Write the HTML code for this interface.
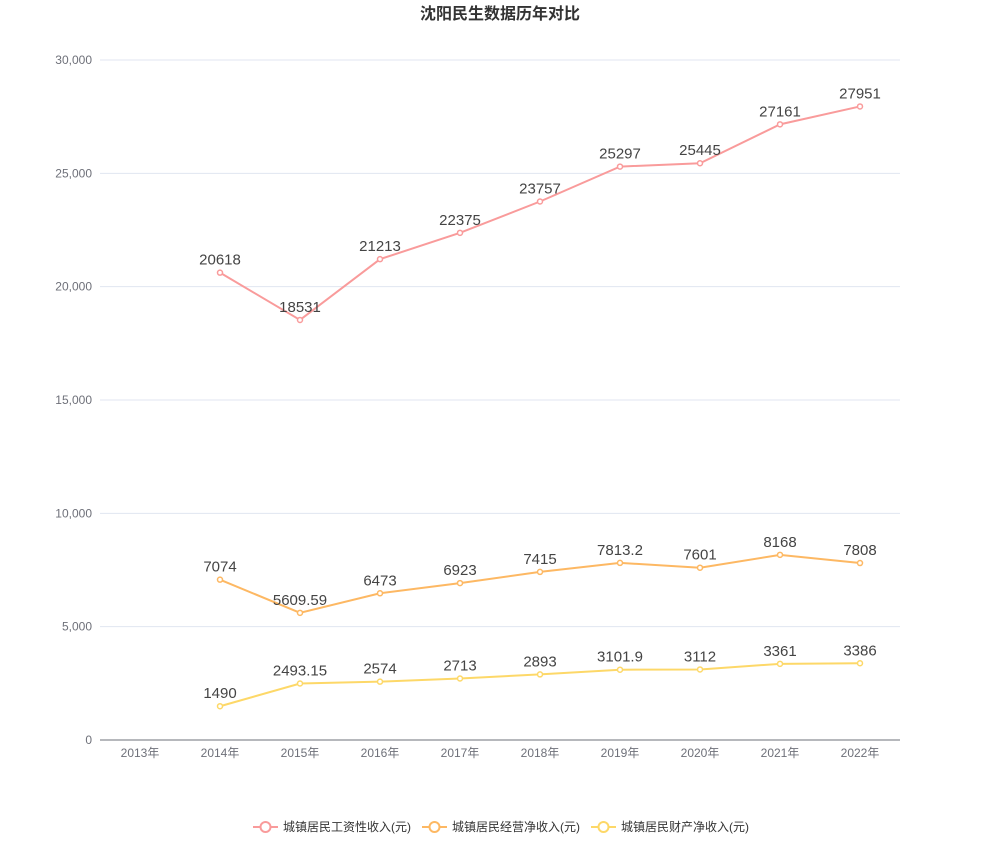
<!DOCTYPE html>
<html><head><meta charset="utf-8"><style>
body{margin:0;background:#fff;}
svg text{font-family:"Liberation Sans","Noto Sans CJK SC",sans-serif;}
</style></head><body>
<svg id="c" width="1000" height="840" xmlns="http://www.w3.org/2000/svg">
<text x="500" y="19" text-anchor="middle" font-size="16" font-weight="bold" fill="#333">沈阳民生数据历年对比</text>
<g id="grid"></g><g id="series"></g><g id="legend"></g>
</svg>
<script>
const categories=["2013年","2014年","2015年","2016年","2017年","2018年","2019年","2020年","2021年","2022年"];
const wage=[null,20618,18531,21213,22375,23757,25297,25445,27161,27951];
const business=[null,7074,5609.59,6473,6923,7415,7813.2,7601,8168,7808];
const property=[null,1490,2493.15,2574,2713,2893,3101.9,3112,3361,3386];
const yTicks=[0,5000,10000,15000,20000,25000,30000];
const tickLabels=["0","5,000","10,000","15,000","20,000","25,000","30,000"];
const seriesNames=["城镇居民工资性收入(元)","城镇居民经营净收入(元)","城镇居民财产净收入(元)"];
const colors=["#f99b9b","#fdb863","#fdd868"];
const NS="http://www.w3.org/2000/svg";
const L=100,R=900,T=60,B=740,yMax=30000;
const x=i=>L+(i+0.5)*(R-L)/categories.length;
const y=v=>B-(v/yMax)*(B-T);
function mk(tag,attrs,parent,text){const e=document.createElementNS(NS,tag);for(const k in attrs)e.setAttribute(k,attrs[k]);if(text!==undefined)e.textContent=text;parent.appendChild(e);return e;}
const g=document.getElementById('grid');
yTicks.forEach((t,i)=>{
  if(t>0){const ln=mk('line',{x1:L,x2:R,y1:y(t),y2:y(t),stroke:'#e0e6f1'},g);
  
  }
  const tx=mk('text',{x:L-8,y:y(t)+4,'text-anchor':'end','font-size':12,fill:'#6e7079'},g,tickLabels[i]);
  
  
});
const ax=mk('line',{x1:L,x2:R,y1:B,y2:B,stroke:'#6e7079'},g);


categories.forEach((c,i)=>{
  const tx=mk('text',{x:x(i),y:B+17,'text-anchor':'middle','font-size':12,fill:'#6e7079'},g,c);
  
  
});
const s=document.getElementById('series');
[wage,business,property].forEach((arr,si)=>{
  const sg=mk('g',{},s);
  
  
  let d='';
  arr.forEach((v,i)=>{if(v==null)return;d+=(d?'L':'M')+x(i)+','+y(v);});
  const p=mk('path',{d:d,fill:'none',stroke:colors[si],'stroke-width':2},sg);
  
  
  arr.forEach((v,i)=>{if(v==null)return;
    const c=mk('circle',{cx:x(i),cy:y(v),r:2.5,fill:'#fff',stroke:colors[si],'stroke-width':1.5},sg);
    
    
    const t=mk('text',{x:x(i),y:y(v)-8,'text-anchor':'middle','font-size':15,fill:'#444'},sg,String(v));
    
    
  });
});
const lg=document.getElementById('legend');
const lx=[253,422,591];
seriesNames.forEach((n,i)=>{
  const e=mk('g',{},lg);
  
  
  mk('line',{x1:lx[i],x2:lx[i]+25,y1:827,y2:827,stroke:colors[i],'stroke-width':2},e);
  mk('circle',{cx:lx[i]+12.5,cy:827,r:5,fill:'#fff',stroke:colors[i],'stroke-width':2},e);
  mk('text',{x:lx[i]+30,y:831,'font-size':12,fill:'#333'},e,n);
});
</script>
</body></html>
